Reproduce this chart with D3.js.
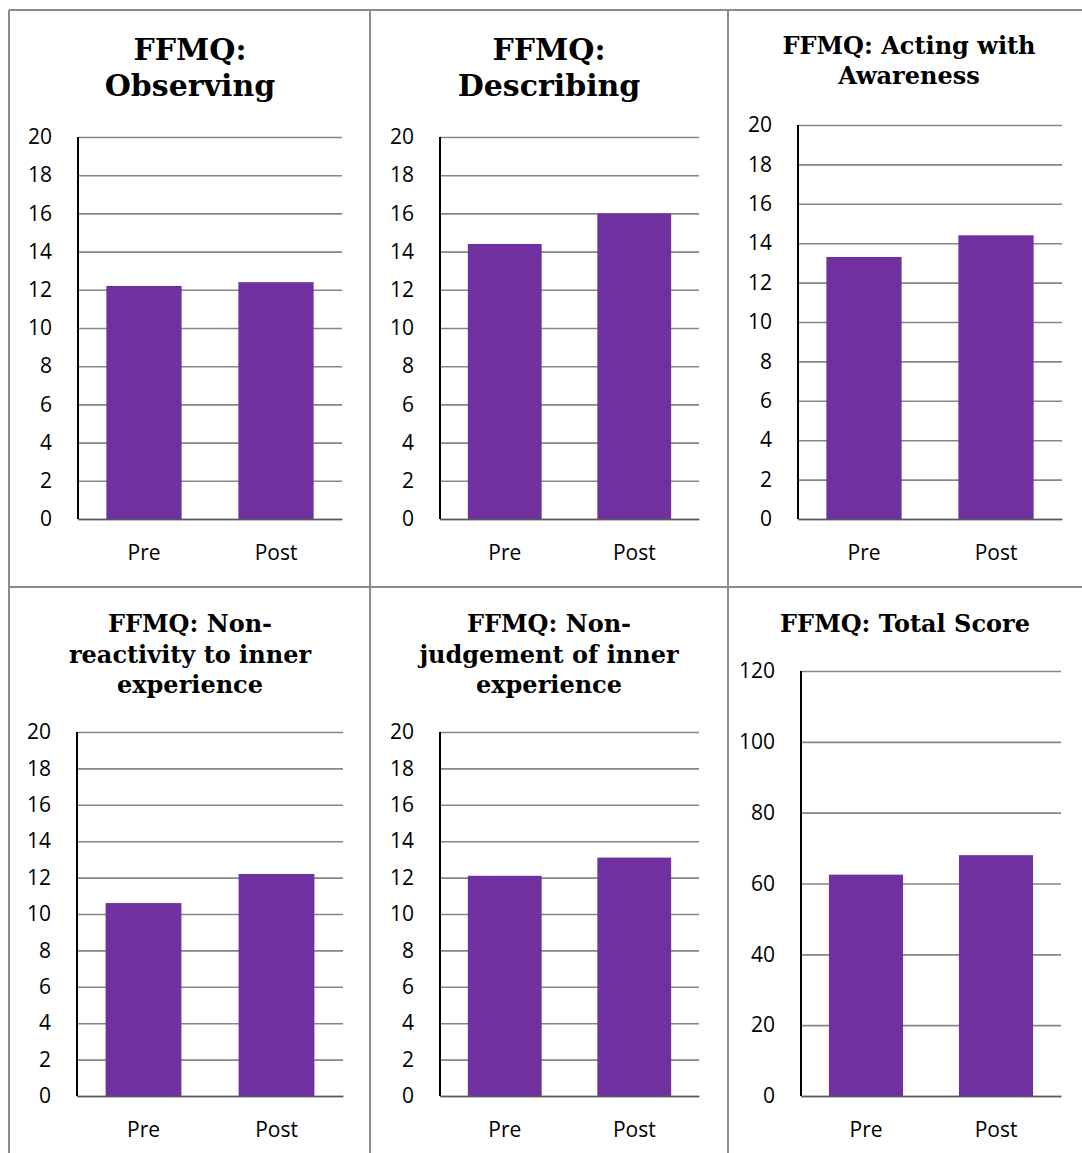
<!DOCTYPE html>
<html>
<head>
<meta charset="utf-8">
<script src="https://cdn.jsdelivr.net/npm/d3@7"></script>
<style>
  html, body { margin: 0; padding: 0; background: #fff; }
  svg { display: block; }
</style>
</head>
<body>
<svg id="chart" width="1082" height="1153"></svg>
<script>
// FFMQ subscale means, before and after the programme
const categories = ["Pre", "Post"];
const titles = [
  ["FFMQ:", "Observing"],
  ["FFMQ:", "Describing"],
  ["FFMQ: Acting with", "Awareness"],
  ["FFMQ: Non-", "reactivity to inner", "experience"],
  ["FFMQ: Non-", "judgement of inner", "experience"],
  ["FFMQ: Total Score"]
];
const observing = [12.2, 12.4];
const describing = [14.4, 16.0];
const actingWithAwareness = [13.3, 14.4];
const nonReactivity = [10.6, 12.2];
const nonJudgement = [12.1, 13.1];
const totalScore = [62.5, 68.0];
const subscaleTicks = [0, 2, 4, 6, 8, 10, 12, 14, 16, 18, 20];
const totalTicks = [0, 20, 40, 60, 80, 100, 120];

const seriesList = [observing, describing, actingWithAwareness, nonReactivity, nonJudgement, totalScore];
const tickList = [subscaleTicks, subscaleTicks, subscaleTicks, subscaleTicks, subscaleTicks, totalTicks];

// panel layout: plot box and title placement
const panels = [
  { x0: 78,  x1: 342,  y0: 137, y1: 519,  tx: 190, ty: 60,  fs: 30, lh: 36 },
  { x0: 440, x1: 699,  y0: 137, y1: 519,  tx: 549, ty: 60,  fs: 30, lh: 36 },
  { x0: 798, x1: 1062, y0: 125, y1: 519,  tx: 909, ty: 54,  fs: 24, lh: 30 },
  { x0: 77,  x1: 343,  y0: 732, y1: 1096, tx: 190, ty: 632, fs: 24, lh: 30.5 },
  { x0: 440, x1: 699,  y0: 732, y1: 1096, tx: 549, ty: 632, fs: 24, lh: 30.5 },
  { x0: 801, x1: 1061, y0: 671, y1: 1096, tx: 905, ty: 632, fs: 24, lh: 30 }
];

const BAR = "#7030A0";
const GRID = "#868686";
const LABEL_FONT = "'Open Sans', 'Liberation Sans', Arial, sans-serif";
const svg = d3.select("#chart");

// table frame
const frame = svg.append("g")
  .attr("stroke", "#8c8c8c").attr("stroke-width", 2).attr("fill", "none");
[[9, 10, 1090, 10], [9, 587, 1090, 587], [9, 10, 9, 1160], [370, 10, 370, 1160], [728, 10, 728, 1160]]
  .forEach(([a, b, c, d]) => frame.append("line").attr("x1", a).attr("y1", b).attr("x2", c).attr("y2", d));

panels.forEach((p, i) => {
  const values = seriesList[i];
  const ticks = tickList[i];
  const g = svg.append("g");

  const x = d3.scaleBand().domain(categories).range([p.x0, p.x1])
    .paddingInner(0.43).paddingOuter(0.215);
  const y = d3.scaleLinear().domain([0, d3.max(ticks)]).range([p.y1, p.y0]);

  // title
  const t = g.append("text")
    .attr("x", p.tx).attr("y", p.ty)
    .attr("text-anchor", "middle")
    .attr("font-family", "'DejaVu Serif', serif")
    .attr("font-weight", "bold")
    .attr("font-size", p.fs)
    .attr("fill", "#000");
  titles[i].forEach((line, k) => {
    t.append("tspan").attr("x", p.tx).attr("y", p.ty + k * p.lh).text(line);
  });

  // gridlines and value labels
  const yAxis = d3.axisLeft(y).tickValues(ticks).tickSize(-(p.x1 - p.x0)).tickPadding(26);
  const ya = g.append("g").attr("transform", `translate(${p.x0},0)`).call(yAxis);
  ya.select(".domain").remove();
  ya.selectAll(".tick line").attr("stroke", GRID).attr("stroke-width", 1.6);
  ya.selectAll(".tick text")
    .attr("font-family", LABEL_FONT)
    .attr("font-size", 21).attr("fill", "#000");

  // bars
  g.selectAll("rect").data(values).join("rect")
    .attr("x", (d, k) => x(categories[k]))
    .attr("width", x.bandwidth())
    .attr("y", d => y(d))
    .attr("height", d => y(0) - y(d))
    .attr("fill", BAR);

  // category axis
  const xAxis = d3.axisBottom(x).tickSize(0).tickPadding(26);
  const xa = g.append("g").attr("transform", `translate(0,${p.y1})`).call(xAxis);
  xa.select(".domain").attr("stroke", "#595959").attr("stroke-width", 1.6);
  xa.selectAll(".tick text")
    .attr("font-family", LABEL_FONT)
    .attr("font-size", 21).attr("fill", "#000");

  // vertical axis line
  g.append("line")
    .attr("x1", p.x0).attr("x2", p.x0)
    .attr("y1", p.y0).attr("y2", p.y1)
    .attr("stroke", "#000").attr("stroke-width", 2);
});
</script>
</body>
</html>
